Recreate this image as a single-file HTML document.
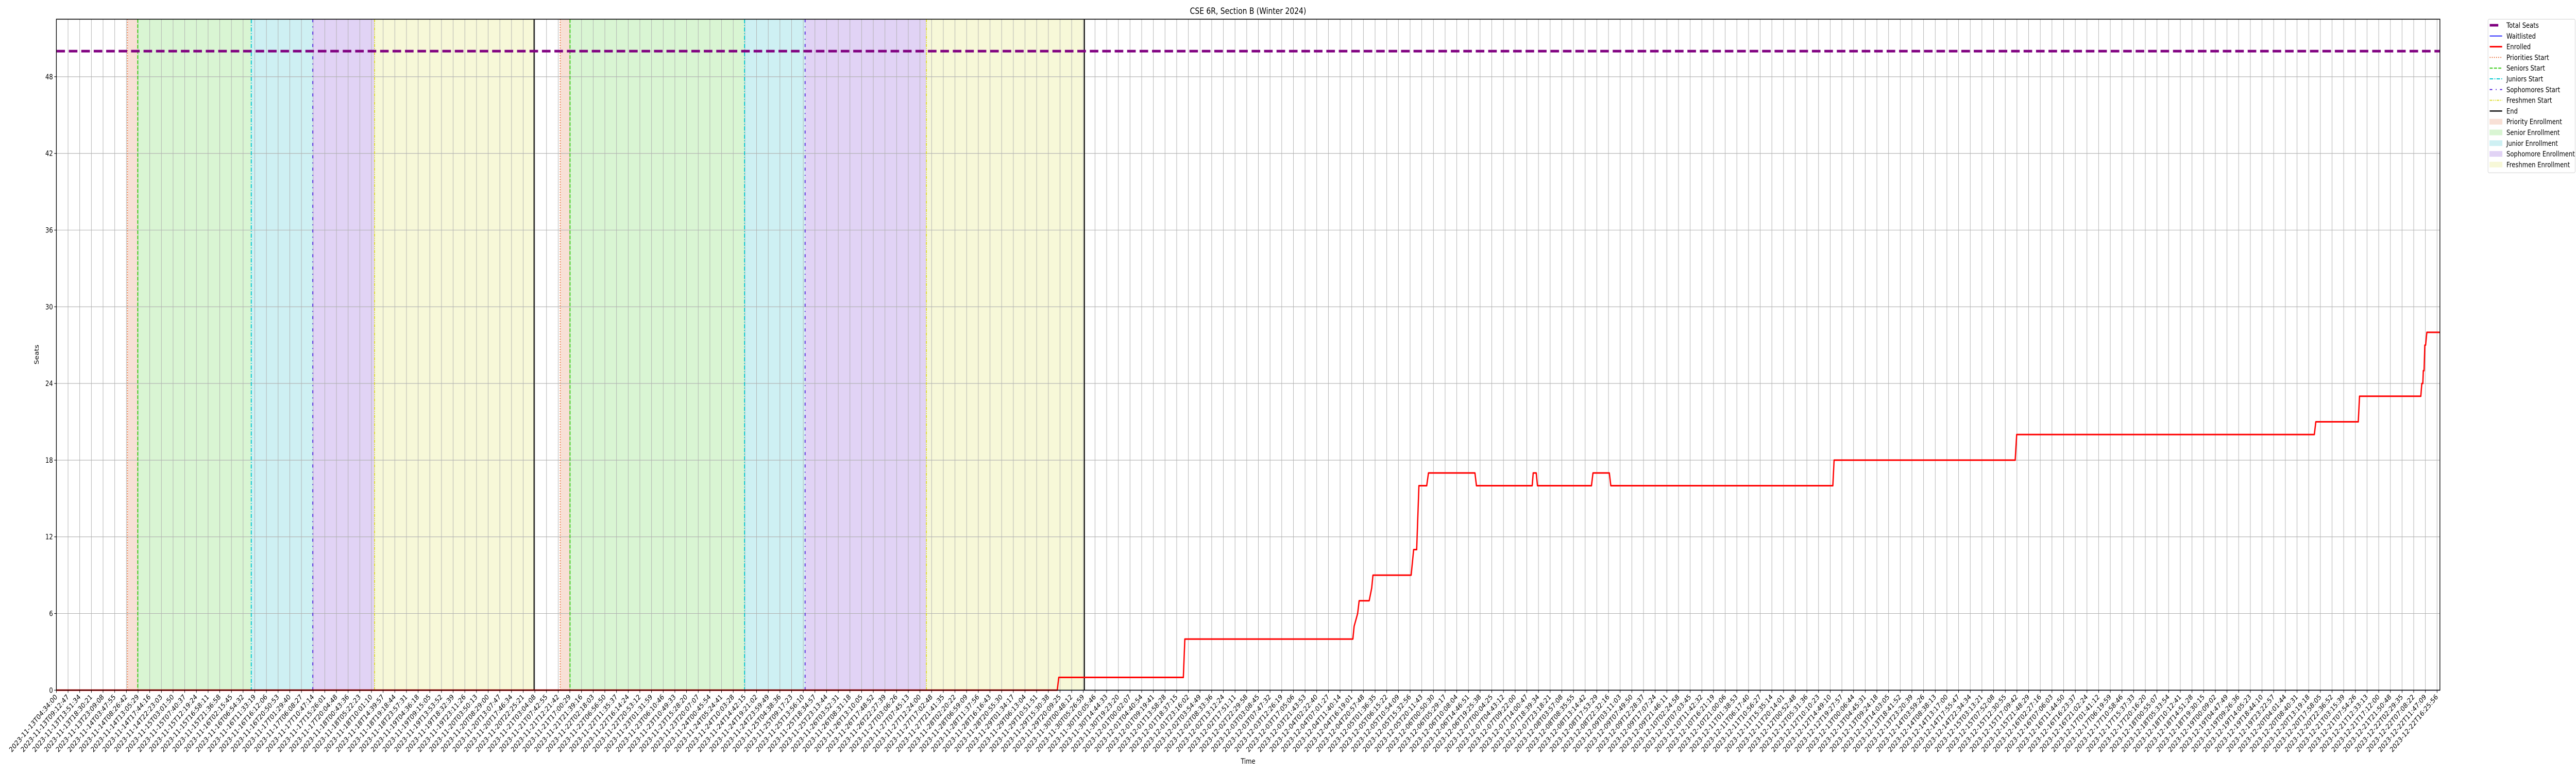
<!DOCTYPE html>
<html><head><meta charset="utf-8"><style>
html,body{margin:0;padding:0;background:#fff;width:100%;height:100%;overflow:hidden;}
svg{display:block;width:100vw;height:100vh;font-family:"DejaVu Sans","Liberation Sans",sans-serif;}
</style></head><body>
<svg id="chart" viewBox="0 0 6000 1500" preserveAspectRatio="none" xmlns="http://www.w3.org/2000/svg" overflow="hidden">
<rect width="6000" height="1500" fill="#fff"/>
<g id="spans"></g>
<g id="grid"></g>
<g id="vlines"></g>
<g id="series"></g>
<rect x="131.3" y="37.3" width="5551.7" height="1302" fill="none" stroke="#000" stroke-width="1.6"/>
<g id="axes"></g>
<text x="2907" y="27" font-size="16.7" text-anchor="middle">CSE 6R, Section B (Winter 2024)</text>
<text x="2907" y="1482" font-size="13.9" text-anchor="middle">Time</text>
<text x="0" y="0" font-size="13.9" text-anchor="middle" transform="translate(90,688) rotate(-90)">Seats</text>
<g id="legend"></g>
</svg>
<script>
// ---- data ----
const yTicks = [0, 6, 12, 18, 24, 30, 36, 42, 48];
const totalSeats = 50;
const tickStartLabel = "2023-11-13T04:34:00";
const tickCount = 205;
const tickStepHours = 4.6464;
const xMaxHours = 949.0;
// phase boundaries (hours since first tick)
const cycle1 = [28.3, 32.4, 77.6, 102.1, 126.7, 190.2];
const cycle2 = [200.6, 204.5, 274.0, 298.1, 346.4, 409.3];
// enrolled series
const enrolledTimes = [0, 398.5, 399.1, 448.7, 449.3, 516.2, 516.7, 518.1, 518.7, 522.7, 523.7, 524.2, 539.4, 539.9, 540.4, 541.6, 542.5, 545.6, 546.3, 564.8, 565.4, 587.6, 588.0, 589.2, 589.7, 611.2, 611.8, 618.3, 618.9, 707.3, 707.8, 779.9, 780.5, 899.0, 899.6, 916.5, 917.0, 941.4, 941.8, 942.2, 942.4, 942.7, 943.0, 943.3, 943.8, 949.0];
const enrolledValues = [0, 0, 1, 1, 4, 4, 5, 6, 7, 7, 8, 9, 9, 10, 11, 11, 16, 16, 17, 17, 16, 16, 17, 17, 16, 16, 17, 17, 16, 16, 18, 18, 20, 20, 21, 21, 23, 23, 24, 24, 25, 25, 27, 27, 28, 28];
const waitTimes = [0, 949.0];
const waitValues = [0, 0];

// ---- axes ----
const X0 = 131.3, X1 = 5683, Y0 = 1339.3, Y1 = 37.3, YMAX = 52.5;
const xs = t => X0 + t / xMaxHours * (X1 - X0);
const ys = v => Y0 - v / YMAX * (Y0 - Y1);
const NS = "http://www.w3.org/2000/svg";
function mk(tag, attrs, parent) {
  const e = document.createElementNS(NS, tag);
  for (const k in attrs) e.setAttribute(k, attrs[k]);
  parent.appendChild(e);
  return e;
}
function pad(n) { return String(n).padStart(2, "0"); }
const tickLabels = [];
{
  const base = Date.UTC(2023, 10, 13, 4, 34, 0);
  for (let i = 0; i < tickCount; i++) {
    const d = new Date(base + i * tickStepHours * 3600000);
    tickLabels.push(d.getUTCFullYear() + "-" + pad(d.getUTCMonth() + 1) + "-" + pad(d.getUTCDate()) + "T" + pad(d.getUTCHours()) + ":" + pad(d.getUTCMinutes()) + ":" + pad(d.getUTCSeconds()));
  }
  tickLabels[0] = tickStartLabel;
}

// spans
const spanColors = ["rgb(248,224,214)", "rgb(217,245,211)", "rgb(206,240,243)", "rgb(225,211,245)", "rgb(247,248,216)"];
const spanNames = ["priority", "senior", "junior", "sophomore", "freshmen"];
const spansG = document.getElementById("spans");
[cycle1, cycle2].forEach((c, ci) => {
  for (let k = 0; k < 5; k++) {
    const r = mk("rect", { x: xs(c[k]), y: Y1, width: xs(c[k + 1]) - xs(c[k]), height: Y0 - Y1, fill: spanColors[k] }, spansG);
    
    
  }
});

// grid
const gridG = document.getElementById("grid");
for (let i = 0; i < tickCount; i++) {
  const x = xs(i * tickStepHours);
  const l = mk("line", { x1: x, x2: x, y1: Y1, y2: Y0, stroke: "#b0b0b0", "stroke-width": 1.1 }, gridG);
  
  
}
yTicks.forEach(v => {
  const l = mk("line", { x1: X0, x2: X1, y1: ys(v), y2: ys(v), stroke: "#b0b0b0", "stroke-width": 1.1 }, gridG);
  
  
});

// phase lines
const lineStyles = [
  { c: "#e8703a", d: "2,3", w: 2.2, n: "priorities-start" },
  { c: "#33cc11", d: "7,3", w: 2.2, n: "seniors-start" },
  { c: "#00c8d0", d: "8,3,2,3", w: 2.2, n: "juniors-start" },
  { c: "#5522dd", d: "6,8,2,8", w: 2.2, n: "sophomores-start" },
  { c: "#dddd33", d: "6,2,2,2,2,2", w: 2.2, n: "freshmen-start" },
  { c: "#000000", d: "", w: 2.4, n: "end" }
];
const vG = document.getElementById("vlines");
[cycle1, cycle2].forEach((c, ci) => {
  for (let k = 0; k < 6; k++) {
    const s = lineStyles[k];
    const a = { x1: xs(c[k]), x2: xs(c[k]), y1: Y1, y2: Y0, stroke: s.c, "stroke-width": s.w };
    if (s.d) a["stroke-dasharray"] = s.d;
    const l = mk("line", a, vG);
    
    
  }
});

// series
const sG = document.getElementById("series");
const seat = mk("line", { x1: X0, x2: X1, y1: ys(totalSeats), y2: ys(totalSeats), stroke: "#800080", "stroke-width": 5, "stroke-dasharray": "20,9" }, sG);


const wl = mk("polyline", { points: waitTimes.map((t, i) => xs(t) + "," + ys(waitValues[i])).join(" "), fill: "none", stroke: "#0000ff", "stroke-width": 1.6 }, sG);


const en = mk("polyline", { points: enrolledTimes.map((t, i) => xs(t) + "," + ys(enrolledValues[i])).join(" "), fill: "none", stroke: "#ff0000", "stroke-width": 3, "stroke-linejoin": "round" }, sG);



// axes ticks & labels
const aG = document.getElementById("axes");
yTicks.forEach(v => {
  const t = mk("line", { x1: X0 - 5, x2: X0, y1: ys(v), y2: ys(v), stroke: "#000", "stroke-width": 1.1 }, aG);
  
  
  const tx = mk("text", { x: X0 - 8, y: ys(v) + 5, "font-size": 13.9, "text-anchor": "end" }, aG);
  tx.textContent = v;
  
  
});
for (let i = 0; i < tickCount; i++) {
  const x = xs(i * tickStepHours);
  const t = mk("line", { x1: x, x2: x, y1: Y0, y2: Y0 + 5, stroke: "#000", "stroke-width": 1.1 }, aG);
  
  
  const tx = mk("text", { transform: "translate(" + (x + 3) + "," + (Y0 + 14) + ") rotate(-45)", "font-size": 13.9, "text-anchor": "end" }, aG);
  tx.textContent = tickLabels[i];
  
  
}

// legend
const lg = document.getElementById("legend");
const box = mk("rect", { x: 5795, y: 37.3, width: 203, height: 298, rx: 3, fill: "#fff", stroke: "#d0d0d0", "stroke-width": 1 }, lg);


const entries = [
  { t: "Total Seats", k: "line", c: "#800080", w: 5, d: "" },
  { t: "Waitlisted", k: "line", c: "#0000ff", w: 1.6, d: "" },
  { t: "Enrolled", k: "line", c: "#ff0000", w: 3, d: "" },
  { t: "Priorities Start", k: "line", c: "#e8703a", w: 2, d: "2,3" },
  { t: "Seniors Start", k: "line", c: "#33cc11", w: 2, d: "7,3" },
  { t: "Juniors Start", k: "line", c: "#00c8d0", w: 2, d: "8,3,2,3" },
  { t: "Sophomores Start", k: "line", c: "#5522dd", w: 2, d: "6,8,2,8" },
  { t: "Freshmen Start", k: "line", c: "#dddd33", w: 2, d: "6,2,2,2,2,2" },
  { t: "End", k: "line", c: "#000000", w: 2.4, d: "" },
  { t: "Priority Enrollment", k: "rect", c: spanColors[0] },
  { t: "Senior Enrollment", k: "rect", c: spanColors[1] },
  { t: "Junior Enrollment", k: "rect", c: spanColors[2] },
  { t: "Sophomore Enrollment", k: "rect", c: spanColors[3] },
  { t: "Freshmen Enrollment", k: "rect", c: spanColors[4] }
];
entries.forEach((e, i) => {
  const cy = 49 + i * 20.8;
  const g = mk("g", {}, lg);
  
  
  if (e.k === "line") {
    const a = { x1: 5799, x2: 5828, y1: cy, y2: cy, stroke: e.c, "stroke-width": e.w };
    if (e.d) a["stroke-dasharray"] = e.d;
    if (e.t === "Total Seats") { a.x2 = 5819; }
    mk("line", a, g);
  } else {
    mk("rect", { x: 5799, y: cy - 5, width: 29, height: 10, fill: e.c, stroke: e.c }, g);
  }
  const tx = mk("text", { x: 5838, y: cy + 5, "font-size": 13.9 }, g);
  tx.textContent = e.t;
});
</script>
</body></html>
